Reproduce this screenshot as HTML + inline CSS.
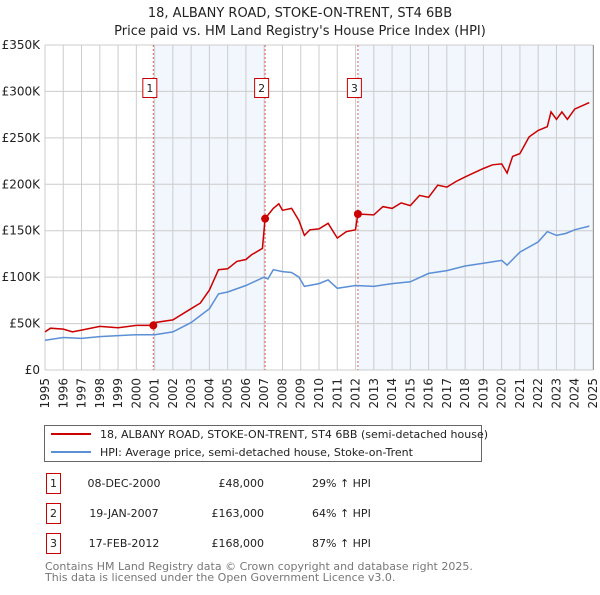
<!DOCTYPE html>
<html><head><meta charset="utf-8">
<style>
body{margin:0;background:#fff;font-family:"Liberation Sans","DejaVu Sans",sans-serif;}
svg text{font-family:"DejaVu Sans","Liberation Sans",sans-serif;}
</style></head>
<body>
<svg id="chart" width="600" height="590" viewBox="0 0 600 590" xmlns="http://www.w3.org/2000/svg">
<text x="300" y="17" text-anchor="middle" font-size="13" fill="#222">18, ALBANY ROAD, STOKE-ON-TRENT, ST4 6BB</text>
<text x="300" y="35" text-anchor="middle" font-size="13" fill="#222">Price paid vs. HM Land Registry's House Price Index (HPI)</text>
<g id="plot"></g>
<g>
<rect x="44.5" y="425.5" width="437" height="36" fill="#fff" stroke="#666"/>
<line x1="51" y1="434" x2="91" y2="434" stroke="#cc0000" stroke-width="2"/>
<text x="100" y="438" font-size="11" fill="#222">18, ALBANY ROAD, STOKE-ON-TRENT, ST4 6BB (semi-detached house)</text>
<line x1="51" y1="452" x2="91" y2="452" stroke="#5b8fd6" stroke-width="2"/>
<text x="100" y="456" font-size="11" fill="#222">HPI: Average price, semi-detached house, Stoke-on-Trent</text>
</g>
<g id="table" font-size="11" fill="#222"></g>
<text x="45" y="570" font-size="11" fill="#777">Contains HM Land Registry data © Crown copyright and database right 2025.</text>
<text x="45" y="581" font-size="11" fill="#777">This data is licensed under the Open Government Licence v3.0.</text>
</svg>
<script>
const yTicks=[0,50000,100000,150000,200000,250000,300000,350000];
const yTickLabels=["£0","£50K","£100K","£150K","£200K","£250K","£300K","£350K"];
const years=[1995,1996,1997,1998,1999,2000,2001,2002,2003,2004,2005,2006,2007,2008,2009,2010,2011,2012,2013,2014,2015,2016,2017,2018,2019,2020,2021,2022,2023,2024,2025];
const hpiT=[1995,1996,1997,1998,1999,2000,2001,2002,2003,2004,2004.5,2005,2006,2007,2007.2,2007.5,2008,2008.5,2008.9,2009.2,2010,2010.5,2011,2012,2013,2014,2015,2016,2017,2018,2019,2020,2020.3,2021,2022,2022.5,2023,2023.5,2024,2024.8];
const hpiV=[32000,35000,34000,36000,37000,38000,38000,41000,51000,66000,82000,84000,91000,100000,98000,108000,106000,105000,100000,90000,93000,97000,88000,91000,90000,93000,95000,104000,107000,112000,115000,118000,113000,127000,138000,149000,145000,147000,151000,155000];
const propT=[1995,1995.3,1996,1996.5,1997,1998,1999,2000,2000.93,2001,2002,2003,2003.5,2004,2004.5,2005,2005.5,2006,2006.3,2006.9,2007.05,2007.5,2007.8,2008,2008.5,2008.9,2009.2,2009.5,2010,2010.5,2011,2011.5,2012,2012.13,2013,2013.5,2014,2014.5,2015,2015.5,2016,2016.5,2017,2017.5,2018,2019,2019.5,2020,2020.3,2020.6,2021,2021.5,2022,2022.5,2022.7,2023,2023.3,2023.6,2024,2024.8];
const propV=[41000,45000,44000,41000,43000,47000,45500,48000,48000,51000,54000,66000,72000,86000,108000,109000,117000,119000,124000,131000,163000,174000,179000,172000,174000,161000,145000,151000,152000,158000,142000,149000,151000,168000,167000,176000,174000,180000,177000,188000,186000,199000,197000,203000,208000,217000,221000,222000,212000,230000,233000,251000,258000,262000,278000,270000,278000,270000,281000,288000];
const saleT=[2000.93,2007.05,2012.13];
const saleV=[48000,163000,168000];
const saleLabels=["1","2","3"];
const saleDates=["08-DEC-2000","19-JAN-2007","17-FEB-2012"];
const salePrices=["£48,000","£163,000","£168,000"];
const saleHpi=["29% ↑ HPI","64% ↑ HPI","87% ↑ HPI"];

const X0=45,X1=593,Y0=370,Y1=45;
const x=t=>X0+(t-1995)/30*(X1-X0);
const y=v=>Y0-v/350000*(Y0-Y1);
const NS="http://www.w3.org/2000/svg";
const plot=document.getElementById('plot');
function mk(tag,attrs,parent){const e=document.createElementNS(NS,tag);for(const k in attrs)e.setAttribute(k,attrs[k]);(parent||plot).appendChild(e);return e;}

const sh1=mk('rect',{x:x(saleT[0]),y:Y1,width:x(saleT[1])-x(saleT[0]),height:Y0-Y1,fill:'#f2f6fd'});


const sh2=mk('rect',{x:x(saleT[2]),y:Y1,width:X1-x(saleT[2]),height:Y0-Y1,fill:'#f2f6fd'});



years.forEach(yr=>{
 const g=mk('line',{x1:x(yr),x2:x(yr),y1:Y1,y2:Y0,stroke:'#cccccc','stroke-width':1});
 
 
 const t=mk('text',{x:0,y:0,'font-size':12,fill:'#222','text-anchor':'end',transform:`translate(${x(yr)+4},${Y0+8}) rotate(-90)`});
 t.textContent=yr;
 
 
});
yTicks.forEach((v,i)=>{
 const g=mk('line',{x1:X0,x2:X1,y1:y(v),y2:y(v),stroke:'#cccccc','stroke-width':1});
 
 
 const t=mk('text',{x:40,y:y(v)+4,'font-size':12,fill:'#222','text-anchor':'end'});
 t.textContent=yTickLabels[i];
 
 
});
const edge=mk('line',{x1:X1+0.5,x2:X1+0.5,y1:Y1,y2:Y0,stroke:'#999','stroke-width':1});



saleT.forEach((t,i)=>{
 const l=mk('line',{x1:x(t),x2:x(t),y1:Y1,y2:Y0,stroke:'#e06060','stroke-width':1,'stroke-dasharray':'2,2'});
 
 
 const r=mk('rect',{x:x(t)-10.5,y:78.5,width:14,height:19,fill:'#fff',stroke:'#cc0000'});
 
 
 const tx=mk('text',{x:x(t)-3.5,y:92,'font-size':11,fill:'#222','text-anchor':'middle'});
 tx.textContent=saleLabels[i];
 
 
});

function path(T,V){return T.map((t,i)=>(i?'L':'M')+x(t).toFixed(1)+','+y(V[i]).toFixed(1)).join('');}
const hp=mk('path',{d:path(hpiT,hpiV),fill:'none',stroke:'#5b8fd6','stroke-width':1.5});


const pp=mk('path',{d:path(propT,propV),fill:'none',stroke:'#cc0000','stroke-width':1.5});


saleT.forEach((t,i)=>{
 const c=mk('circle',{cx:x(t),cy:y(saleV[i]),r:4,fill:'#cc0000'});
 
 
});

const tb=document.getElementById('table');
const rowY=[483,513,543];
saleLabels.forEach((s,i)=>{
 const r=mk('rect',{x:46.5,y:rowY[i]-9.5,width:14,height:20,fill:'#fff',stroke:'#cc0000'},tb);
 
 
 const a=mk('text',{x:53.5,y:rowY[i]+4,'text-anchor':'middle'},tb);a.textContent=s;
 
 
 const d=mk('text',{x:124,y:rowY[i]+4,'text-anchor':'middle'},tb);d.textContent=saleDates[i];
 
 
 const p=mk('text',{x:264,y:rowY[i]+4,'text-anchor':'end'},tb);p.textContent=salePrices[i];
 
 
 const h=mk('text',{x:312,y:rowY[i]+4},tb);h.textContent=saleHpi[i];
 
 
});
</script>
</body></html>
